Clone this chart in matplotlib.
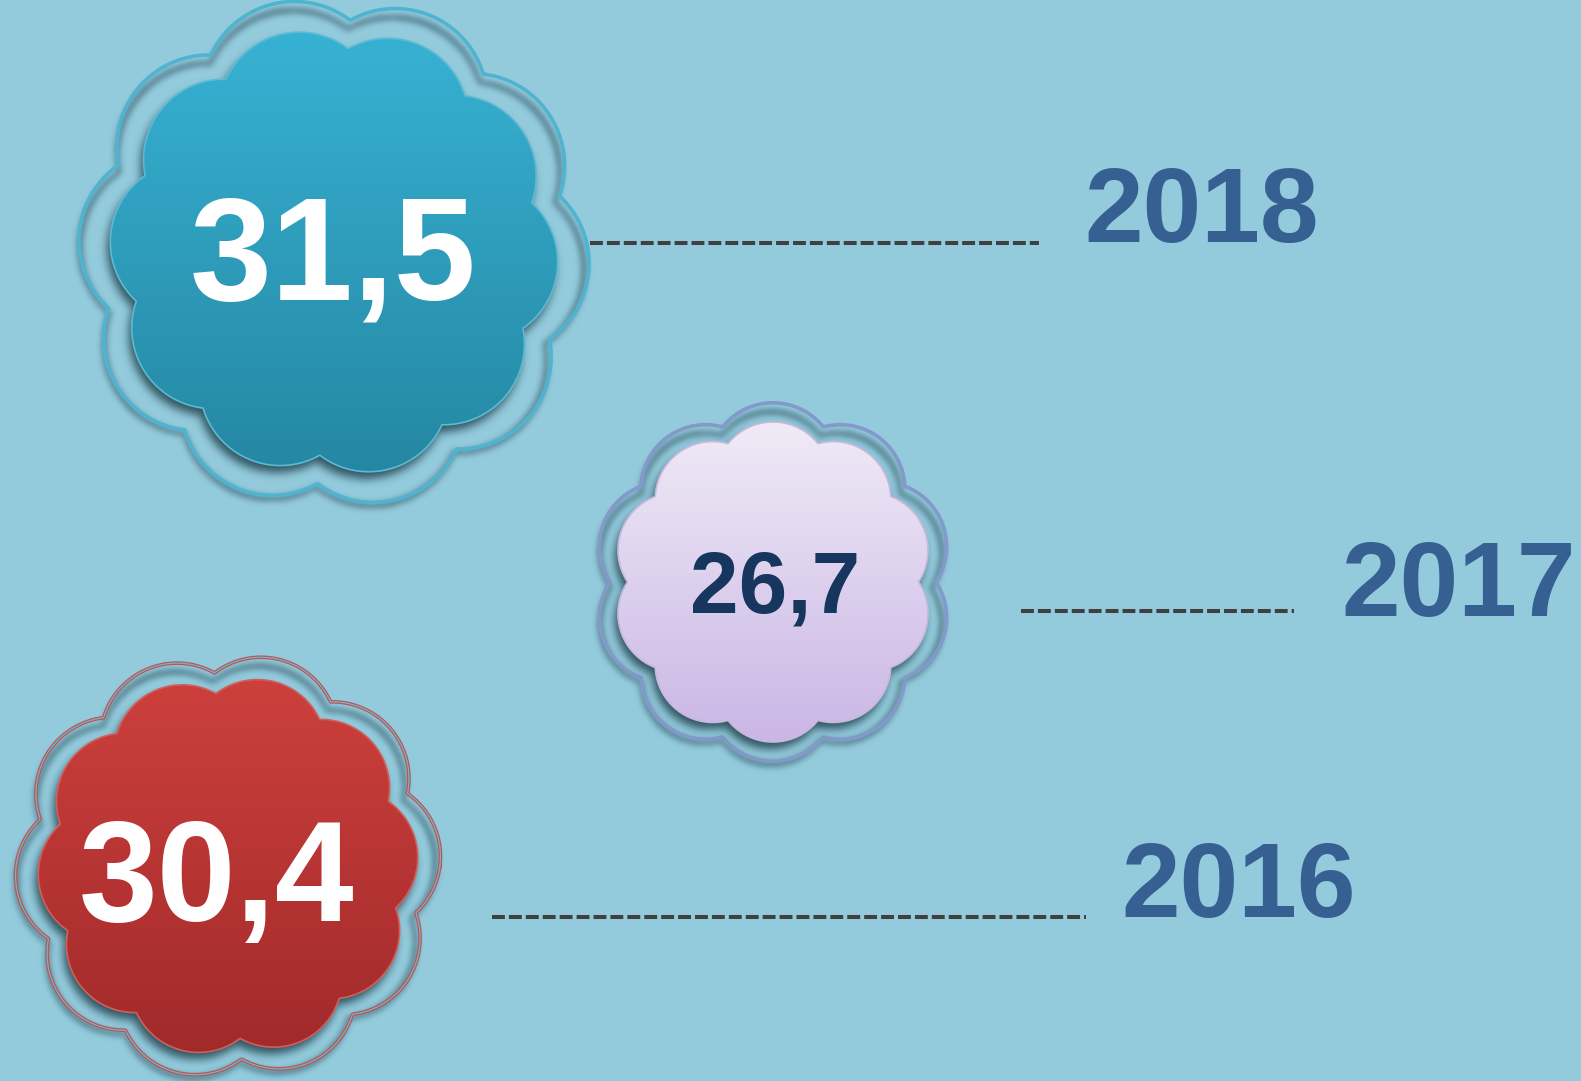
import numpy as np
import matplotlib.pyplot as plt
from matplotlib.patches import Polygon
from matplotlib.path import Path

# Values and years shown in the flowers
years = ['2018', '2017', '2016']
values = [31.5, 26.7, 30.4]

# Layout (pixels, y going down)
centers = [(334, 252), (773, 582), (228, 866)]
radii = [224, 160, 190]
outer_scale = [1.14, 1.12, 1.12]
rotations = [-4, 18, 4]
value_pos = [(333, 299), (775, 612), (217, 921)]
value_size = [106, 63, 102]
value_color = ['white', '#17365D', 'white']
year_pos = [(1084, 242), (1341, 616), (1121, 917)]
line_x = [(590, 1039), (1021, 1294), (492, 1086)]
line_y = [243, 611, 917]
grad_top = ['#38B3D5', '#F1ECF7', '#CE413D']
grad_bot = ['#2486A1', '#C9B5E5', '#A0292A']
edge_col = ['#5DBAD3', '#C8B8DC', '#D0605C']
outline_a = ['#4FB4CF', '#9C8CC8', '#C4504E']
outline_b = ['#4FB4CF', '#5AAFD0', '#6CB8CE']

BG = '#93CBDD'
W, H = 1581, 1081


def flower(cx, cy, R, rot, n=10, npts=1200):
    t = np.linspace(0, 2 * np.pi, npts)
    d, rc = 0.64, 0.36
    r = np.full_like(t, -1.0)
    for k in range(n):
        phi = np.deg2rad(rot) + 2 * np.pi * k / n
        s = rc ** 2 - (d * np.sin(t - phi)) ** 2
        ok = (s >= 0) & (np.cos(t - phi) > 0)
        rk = np.where(ok, d * np.cos(t - phi) + np.sqrt(np.clip(s, 0, None)), -1)
        r = np.maximum(r, rk)
    r = r / (d + rc)
    return np.column_stack([cx + R * r * np.cos(t), cy - R * r * np.sin(t)])


def hex2rgb(h):
    h = h.lstrip('#')
    return np.array([int(h[i:i + 2], 16) / 255 for i in (0, 2, 4)])


def blur(a, sigma):
    rr = int(3 * sigma)
    x = np.arange(-rr, rr + 1)
    k = np.exp(-x ** 2 / (2 * sigma ** 2))
    k /= k.sum()
    a = np.apply_along_axis(lambda m: np.convolve(m, k, mode='same'), 0, a)
    a = np.apply_along_axis(lambda m: np.convolve(m, k, mode='same'), 1, a)
    return a


def shadow(ax, mask_fn, box, sigma, strength, z, color='#1f3f4a'):
    x0, x1, y0, y1 = box
    xs = np.arange(x0, x1) + 0.5
    ys = np.arange(y0, y1) + 0.5
    gx, gy = np.meshgrid(xs, ys)
    pts = np.column_stack([gx.ravel(), gy.ravel()])
    m = mask_fn(pts).reshape(gx.shape).astype(float)
    m = blur(m, sigma)
    rgba = np.zeros(m.shape + (4,))
    rgba[..., :3] = hex2rgb(color)
    rgba[..., 3] = np.clip(m * strength, 0, 1)
    ax.imshow(rgba, extent=(x0, x1, y1, y0), origin='upper', aspect='auto',
              zorder=z, interpolation='bilinear')


fig = plt.figure(figsize=(W / 100, H / 100), dpi=100)
fig.patch.set_facecolor(BG)
ax = fig.add_axes([0, 0, 1, 1])
ax.set_facecolor(BG)

for i in range(3):
    cx, cy = centers[i]
    R = radii[i]
    rot = rotations[i]
    Ro = R * outer_scale[i]
    box = (int(cx - Ro - 30), int(cx + Ro + 30), int(cy - Ro - 30), int(cy + Ro + 30))

    # shadow of the outer frame line
    p_out = Path(flower(cx - 2, cy + 6, Ro, rot))
    p_in = Path(flower(cx - 2, cy + 6, Ro - 6, rot))
    shadow(ax, lambda p: p_out.contains_points(p) & ~p_in.contains_points(p),
           box, 3.0, 0.55, 1)

    # outer outline (double line)
    ax.plot(*flower(cx, cy, Ro, rot).T, color=outline_a[i], lw=2.6, zorder=2)
    ax.plot(*flower(cx, cy, Ro, rot).T, color=outline_b[i], lw=0.9, zorder=2)

    # shadow of the inner flower
    p_sh = Path(flower(cx - 3, cy + 7, R, rot))
    shadow(ax, p_sh.contains_points, box, 4.5, 0.85, 3)

    # inner flower with vertical gradient
    pts = flower(cx, cy, R, rot)
    patch = Polygon(pts, closed=True, facecolor='none',
                    edgecolor=edge_col[i], lw=1.2, zorder=5)
    ax.add_patch(patch)
    top, bot = hex2rgb(grad_top[i]), hex2rgb(grad_bot[i])
    f = np.linspace(0, 1, 256)[:, None, None]
    grad = top[None, None, :] * (1 - f) + bot[None, None, :] * f
    im = ax.imshow(grad, extent=(cx - R * 1.05, cx + R * 1.05, cy + R * 1.05, cy - R * 1.05),
                   origin='upper', aspect='auto', zorder=4, interpolation='bilinear')
    im.set_clip_path(patch)

    # value label
    label = f'{values[i]:.1f}'.replace('.', ',')
    ax.text(value_pos[i][0], value_pos[i][1], label, ha='center', va='baseline',
            fontsize=value_size[i], fontweight='bold', color=value_color[i],
            family='Liberation Sans', zorder=6)

    # dashed leader line
    ax.plot(line_x[i], [line_y[i], line_y[i]], color='#404040', lw=2.9,
            linestyle=(0, (3.2, 1.0)), solid_capstyle='butt', zorder=2)

    # year label
    ax.text(year_pos[i][0], year_pos[i][1], years[i], ha='left', va='baseline',
            fontsize=76, fontweight='bold', color='#366092',
            family='Liberation Sans', zorder=6)

ax.set_xlim(0, W)
ax.set_ylim(H, 0)
ax.axis('off')

fig.savefig('out.png', dpi=100, facecolor=BG)
